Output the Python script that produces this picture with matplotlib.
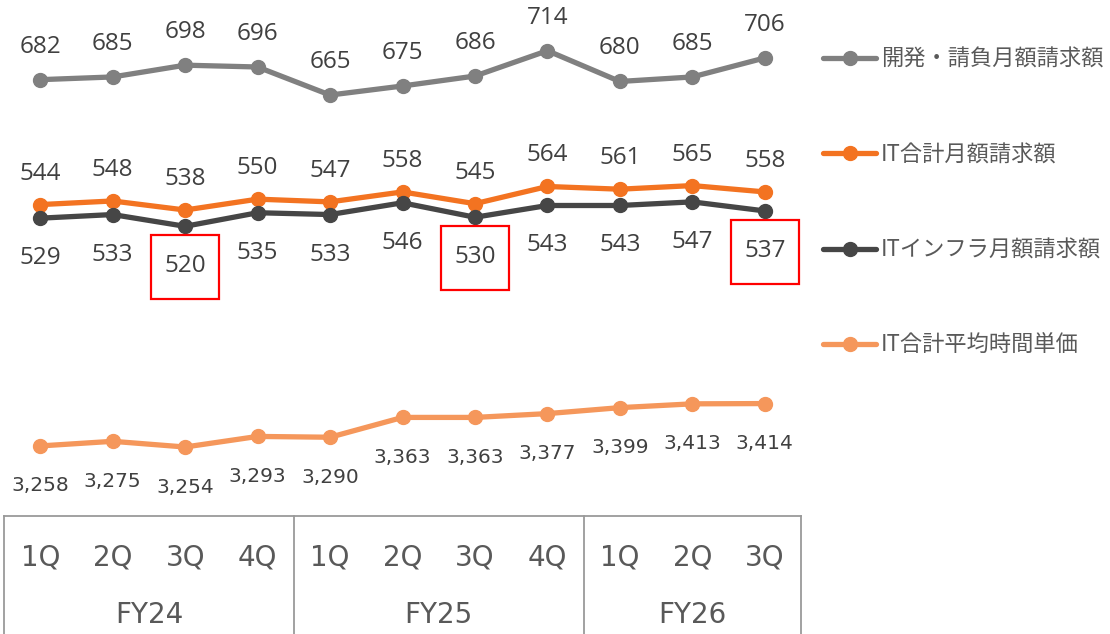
import matplotlib.pyplot as plt
from matplotlib.transforms import ScaledTranslation
from matplotlib.patches import Rectangle

quarters = ["1Q", "2Q", "3Q", "4Q", "1Q", "2Q", "3Q", "4Q", "1Q", "2Q", "3Q"]
fiscal_years = ["FY24", "FY25", "FY26"]
fy_spans = [(0, 3), (4, 7), (8, 10)]

dev_billing = [682, 685, 698, 696, 665, 675, 686, 714, 680, 685, 706]
it_total_billing = [544, 548, 538, 550, 547, 558, 545, 564, 561, 565, 558]
it_infra_billing = [529, 533, 520, 535, 533, 546, 530, 543, 543, 547, 537]
it_hourly_rate = [3258, 3275, 3254, 3293, 3290, 3363, 3363, 3377, 3399, 3413, 3414]

boxed_infra = [2, 6, 10]

names = ["開発・請負月額請求額", "IT合計月額請求額", "ITインフラ月額請求額", "IT合計平均時間単価"]
colors = ["#808080", "#F37321", "#464646", "#F5975B"]

label_color = "#404040"
axis_color = "#595959"
jp_font = ["Noto Sans CJK JP", "DejaVu Sans"]

fig = plt.figure(figsize=(11.1, 6.34), dpi=100)
ax = fig.add_axes([4 / 1110, 118 / 634, 797 / 1110, 516 / 634])
ax2 = ax.twinx()

x = list(range(len(quarters)))
ax.set_xlim(-0.5, len(quarters) - 0.5)
ax.set_ylim(200, 770)
ax2.set_ylim(3000, 4900)

series = [(ax, dev_billing, 33), (ax, it_total_billing, 31),
          (ax, it_infra_billing, -40), (ax2, it_hourly_rate, -40)]
handles = []
for (a, vals, off), name, c in zip(series, names, colors):
    ln, = a.plot(x, vals, color=c, lw=3.8, marker="o", ms=10,
                 solid_capstyle="round", label=name, clip_on=False)
    handles.append(ln)
    for xi, v in zip(x, vals):
        if a is ax2:
            a.annotate(f"{v:,}", (xi, v), xytext=(0, off * 0.72), textcoords="offset points",
                       ha="center", va="center", fontsize=14.5, color=label_color,
                       family="DejaVu Sans")
        else:
            a.annotate(f"{v}", (xi, v), xytext=(0, off * 0.72), textcoords="offset points",
                       ha="center", va="center", fontsize=17.5, color=label_color,
                       family="Open Sans")

# red boxes around the lowest infra labels
for i in boxed_infra:
    tr = fig.dpi_scale_trans + ScaledTranslation(x[i], it_infra_billing[i], ax.transData)
    ax.add_patch(Rectangle((-0.34, -0.73), 0.68, 0.64, transform=tr, fill=False,
                           edgecolor="#FF0000", lw=1.6, clip_on=False, zorder=5))

for a in (ax, ax2):
    a.set_yticks([])
    a.set_xticks([])
    for s in a.spines.values():
        s.set_visible(False)

# category table under the plot
xt = ax.get_xaxis_transform()
line_c = "#9A9A9A"
ax.plot([-0.5, len(quarters) - 0.5], [0, 0], transform=xt, color=line_c, lw=1.3, clip_on=False)
for sep in [-0.5, 3.5, 7.5, len(quarters) - 0.5]:
    ax.plot([sep, sep], [0, -0.23], transform=xt, color=line_c, lw=1.3, clip_on=False)
for xi, q in zip(x, quarters):
    ax.text(xi, -0.081, q, transform=xt, ha="center", va="center", fontsize=20,
            color=axis_color, family="DejaVu Sans")
for fy, (a0, a1) in zip(fiscal_years, fy_spans):
    ax.text((a0 + a1) / 2, -0.192, fy, transform=xt, ha="center", va="center",
            fontsize=20, color=axis_color, family="DejaVu Sans")

fig.legend(handles=handles, labels=names, loc="upper left", bbox_to_anchor=(803 / 1110, 1 - 28 / 634),
           frameon=False, handlelength=2.4, handletextpad=0.2, labelspacing=3.25,
           prop={"family": jp_font, "size": 16}, labelcolor=axis_color)

fig.savefig("out.png", dpi=100)
